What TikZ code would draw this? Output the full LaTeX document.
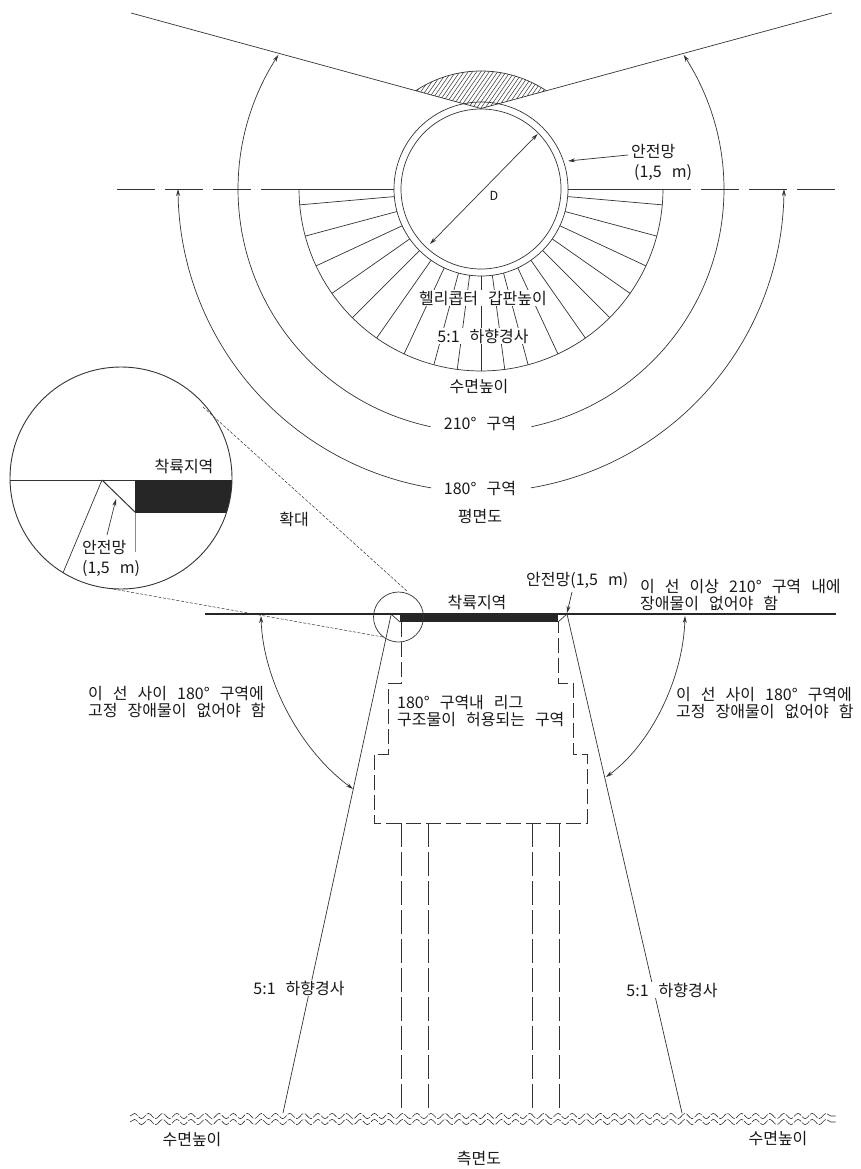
\documentclass[tikz,border=0pt]{standalone}
\usepackage{fontspec}
\setmainfont{Noto Sans CJK KR}[WordSpace=2.8]
\usetikzlibrary{arrows.meta,decorations.pathmorphing}
\definecolor{ink}{gray}{0.2}
\tikzset{
  lab/.style={font=\fontsize{16}{16.5}\selectfont,text=black!90,inner sep=1pt,align=left},
  wlab/.style={lab,fill=white},
  thin line/.style={draw=ink,line width=0.7pt},
  heavy line/.style={draw=black!85,line width=1.2pt},
  dash line/.style={draw=ink,line width=0.7pt,dash pattern=on 15pt off 5pt},
  leg line/.style={draw=ink,line width=0.7pt,dash pattern=on 24pt off 5pt},
  center line/.style={draw=ink,line width=0.7pt,dash pattern=on 38pt off 10pt},
  leader/.style={draw=ink,line width=0.5pt,dash pattern=on 3pt off 1.6pt},
  tip/.style={>={Stealth[length=7pt,width=4pt]}},
  wave/.style={draw=ink,line width=0.6pt,decorate,decoration={snake,segment length=14.12pt,amplitude=2.6pt}},
}
\begin{document}
\begin{tikzpicture}[x=1pt,y=-1pt,tip]
\useasboundingbox (0,0) rectangle (860,1169);
% ---------- plan view
\coordinate (C) at (481,189);
\coordinate (apex) at (481,108.5);
\coordinate (tl) at (131,13);
\coordinate (tr) at (832,13);
\coordinate (cl) at (117,189);
\coordinate (fl) at (299,189);
\coordinate (rl) at (394,189);
\coordinate (rr) at (568,189);
\coordinate (fr) at (663,189);
\coordinate (cr) at (835,189);
\begin{scope}
  \clip (415.6,90.7) -- plot[domain=236.4:303.6,samples=40,shift={(C)}] (\x:118) -- (apex) -- cycle;
  \foreach \i in {0,...,40}
    \draw[draw=ink,line width=0.5pt] ({390+\i*4.2},112) -- ({390+\i*4.2+36},60);
\end{scope}
\draw[thin line] (415.6,90.7) plot[domain=236.4:303.6,samples=40,shift={(C)}] (\x:118);
\draw[thin line] (tl) -- (apex) -- (tr);
\draw[thin line] (C) circle[radius=87pt];
\draw[thin line] (C) circle[radius=80pt];
\begin{scope}[shift={(C)}]
  \foreach \a in {5,15,25,35,45,55,65,75,82.5,90,97.5,105,115,125,135,145,155,165,175}
    \draw[thin line] (\a:87) -- (\a:182);
  \draw[thin line] plot[domain=0:180,samples=80] (\x:182);
  \draw[thin line,tip,->] plot[domain=102:213.5,samples=70] (\x:243);
  \draw[thin line,tip,->] plot[domain=78:-33.5,samples=70] (\x:243);
  \draw[thin line,tip,->] plot[domain=99.5:180,samples=60] (\x:303);
  \draw[thin line,tip,->] plot[domain=80.5:0,samples=60] (\x:303);
\end{scope}
\draw[center line] (cl) -- (fl);
\draw[thin line] (fl) -- (rl);
\draw[thin line] (rr) -- (fr);
\draw[center line] (cr) -- (fr);
\coordinate (da) at (537.7,134);
\coordinate (db) at (430,244);
\draw[thin line,<->] (da) -- (db);
\node[lab,font=\fontsize{12.5}{14}\selectfont] (Dlab) at (494,196) {D};
\node[lab,anchor=west] (net1) at (630,162) {안전망\\[3.5pt]\hspace*{3pt}(1,5 m)};
\coordinate (nettip) at (568,161);
\draw[thin line,->] (628,155) -- (nettip);
\node[wlab] (deck) at (483,298) {헬리콥터 갑판높이};
\node[wlab] (slope1) at (483,336) {5:1 하향경사};
\node[lab] (sea1) at (479,387) {수면높이};
\node[lab] (z210) at (480,424) {210° 구역};
\node[lab] (z180) at (480,489) {180° 구역};
\node[lab] (plan) at (480,516) {평면도};
% ---------- magnified circle
\coordinate (M) at (121,478);
\begin{scope}
  \clip (M) circle[radius=111pt];
  \fill[black!85] (135,480) rectangle (240,513);
  \draw[thin line,line width=1pt] (0,480) -- (135,480);
  \draw[thin line,line width=1pt] (102,480) -- (135,512);
  \draw[thin line] (102,480) -- (60,580);
  \draw[draw=black!45,line width=0.8pt] (135,513) -- (135,552);
\end{scope}
\draw[draw=ink,line width=0.9pt] (M) circle[radius=111pt];
\node[lab] (landm) at (184,466) {착륙지역};
\node[lab,anchor=west] (netm) at (81,558) {안전망\\[3.5pt](1,5 m)};
\draw[thin line,->] (107,535) -- (116,499);
% ---------- side view
\coordinate (s) at (398.5,617);
\coordinate (hl) at (205,614);
\coordinate (hr) at (836,614);
\draw[heavy line] (hl) -- (hr);
\fill[black!85] (400,613.5) rectangle (558,622);
\draw[thin line] (392,615) -- (400,622);
\draw[thin line] (558,622) -- (567,614);
\draw[thin line] (s) circle[radius=25pt];
\coordinate (blL) at (283,1113);
\coordinate (blR) at (682,1113);
\draw[thin line] (391,615) -- (blL);
\draw[thin line] (567,614) -- (blR);
\draw[leader] (203,407) -- (408,592);
\draw[leader] (113,589) -- (383,637);
\draw[dash line] (401,622) -- (401,683) -- (388,683) -- (388,754) -- (374,754) -- (374,823) -- (587,823) -- (587,754) -- (573,754) -- (573,683) -- (558,683) -- (558,622);
\foreach \x in {401,428,532,559}
  \draw[leg line] (\x,823) -- (\x,1113);
\draw[wave,dash pattern=on 9pt off 1.5pt] (130,1116) -- (836,1116);
\draw[wave,dash pattern=on 9pt off 1.5pt] (130,1122) -- (836,1122);
\draw[thin line,<->] (261,616) .. controls (263,680) and (300,750) .. (353,789);
\draw[thin line,<->] (685,616) .. controls (683,680) and (650,745) .. (606,777);
\draw[thin line,->] (572,592) -- (567,613);
\node[lab] (mag) at (294,519) {확대};
\node[lab] (land) at (477,602) {착륙지역};
\node[lab,anchor=west] (nets) at (525,580) {안전망(1,5 m)};
\node[lab,anchor=west] (over) at (639,595) {이 선 이상 210° 구역 내에\\장애물이 없어야 함};
\node[lab,anchor=west] (betL) at (87,702) {이 선 사이 180° 구역에\\고정 장애물이 없어야 함};
\node[lab,anchor=west] (betR) at (675,703) {이 선 사이 180° 구역에\\고정 장애물이 없어야 함};
\node[lab,anchor=west] (rig) at (396,711) {180° 구역내 리그\\구조물이 허용되는 구역};
\node[wlab] (slopeL) at (299,988) {5:1 하향경사};
\node[wlab] (slopeR) at (672,990) {5:1 하향경사};
\node[lab] (seaL) at (192,1140) {수면높이};
\node[lab] (seaR) at (778,1139) {수면높이};
\node[lab] (side) at (479,1158) {측면도};
\end{tikzpicture}
\end{document}
